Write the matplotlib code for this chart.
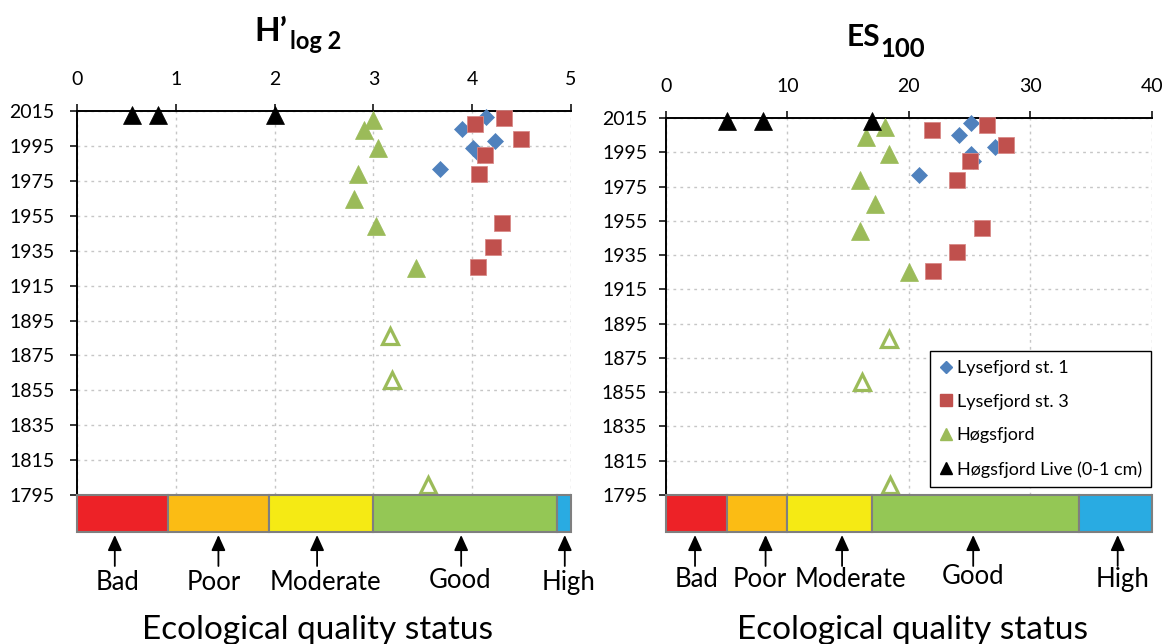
import matplotlib
matplotlib.use("Agg")
import matplotlib.pyplot as plt
from matplotlib.patches import Rectangle
from matplotlib.lines import Line2D

plt.rcParams['font.family'] = ['Lato', 'DejaVu Sans']

# ---------------- data ----------------
years_ly1 = [2012, 2005, 1998, 1994, 1990, 1982]
h_ly1 = [4.14, 3.90, 4.23, 4.01, 4.08, 3.68]
es_ly1 = [25.1, 24.1, 27.1, 25.1, 25.3, 20.8]

years_ly3 = [2011, 2008, 1999, 1990, 1979, 1951, 1937, 1926]
h_ly3 = [4.32, 4.03, 4.50, 4.13, 4.07, 4.30, 4.21, 4.06]
es_ly3 = [26.4, 21.9, 28.0, 25.0, 24.0, 26.0, 24.0, 22.0]

years_hog = [2010, 2004, 1994, 1979, 1965, 1949, 1925]
h_hog = [3.00, 2.91, 3.05, 2.84, 2.80, 3.03, 3.43]
es_hog = [18.0, 16.5, 18.4, 16.0, 17.2, 16.0, 20.0]

years_hog_open = [1886, 1861, 1801]
h_hog_open = [3.17, 3.19, 3.55]
es_hog_open = [18.35, 16.15, 18.46]

years_live = [2013, 2013, 2013]
h_live = [0.55, 0.82, 2.00]
es_live = [5.0, 8.0, 17.0]

status_names = ['Bad', 'Poor', 'Moderate', 'Good', 'High']
h_bounds = [0, 0.92, 1.94, 3.0, 4.86, 5.0]
es_bounds = [0, 5, 10, 17, 34, 40]

year_ticks = list(range(1795, 2016, 20))
h_ticks = [0, 1, 2, 3, 4, 5]
es_ticks = [0, 10, 20, 30, 40]

series_names = ['Lysefjord st. 1', 'Lysefjord st. 3', 'Høgsfjord', 'Høgsfjord Live (0-1 cm)']

# ---------------- style ----------------
W, H = 1169, 644
C_BLUE = '#4F81BD'
C_RED = '#C0504D'
C_GREEN = '#9BBB59'
C_BLACK = '#000000'
status_colors = ['#ED2227', '#FBBC14', '#F5EA14', '#94C755', '#29ABE2']

fig = plt.figure(figsize=(W / 100, H / 100), dpi=100)


def px_axes(x0, x1, ytop, ybot):
    return fig.add_axes([x0 / W, 1 - ybot / H, (x1 - x0) / W, (ybot - ytop) / H])


def setup_main(ax, xmax, xticks, ypad):
    ax.set_xlim(0, xmax)
    ax.set_ylim(1795, 2015)
    ax.xaxis.tick_top()
    ax.set_xticks(xticks)
    ax.set_yticks(year_ticks)
    for s in ['right', 'bottom']:
        ax.spines[s].set_visible(False)
    for s in ['left', 'top']:
        ax.spines[s].set_linewidth(1.4)
        ax.spines[s].set_color('black')
    ax.tick_params(axis='x', direction='out', length=5, width=1.1, pad=11.5, labelsize=14)
    ax.tick_params(axis='y', direction='out', length=5, width=1.1, pad=ypad, labelsize=14)
    ax.grid(True, linestyle=(0, (2, 3)), color='#c6c6c6', linewidth=1.0)
    ax.set_axisbelow(True)


def plot_points(ax, ly1, ly3, hog, hog_open, live):
    ax.plot(ly1, years_ly1, ls='none', marker='D', ms=8.6, color=C_BLUE,
            mec=C_BLUE, mew=0.5, clip_on=False, zorder=3)
    ax.plot(ly3, years_ly3, ls='none', marker='s', ms=12.0, color=C_RED,
            mec='#D88A88', mew=0.6, clip_on=False, zorder=4)
    ax.plot(hog, years_hog, ls='none', marker='^', ms=13.3, color=C_GREEN,
            mec=C_GREEN, mew=0.5, clip_on=False, zorder=5)
    ax.plot(hog_open, years_hog_open, ls='none', marker='^', ms=11.3, mfc='white',
            mec=C_GREEN, mew=2.3, clip_on=False, zorder=5)
    ax.plot(live, years_live, ls='none', marker='^', ms=13.3, color=C_BLACK,
            mec=C_BLACK, mew=0.5, clip_on=False, zorder=6)


def status_bar(axb, xmax, bounds, arrow_x, label_x, base_px):
    axb.set_xlim(0, xmax)
    axb.set_ylim(0, 1)
    axb.axis('off')
    for i in range(len(status_names)):
        axb.add_patch(Rectangle((bounds[i], 0), bounds[i + 1] - bounds[i], 1,
                                facecolor=status_colors[i], edgecolor='#7F7F7F',
                                linewidth=1.5, clip_on=False))
    hpx = 37.0
    tip = -(535 - 532) / hpx
    tail = -(566 - 532) / hpx
    for i, name in enumerate(status_names):
        axb.annotate('', xy=(arrow_x[i], tip), xytext=(arrow_x[i], tail),
                     xycoords=('data', 'axes fraction'),
                     textcoords=('data', 'axes fraction'),
                     arrowprops=dict(arrowstyle='-|>,head_length=0.55,head_width=0.25',
                                     color='black', lw=1.3,
                                     mutation_scale=17, shrinkA=0, shrinkB=0),
                     annotation_clip=False)
        by = base_px - (2.5 if name == 'Good' else 0)
        axb.text(label_x[i], -(by - 532) / hpx, name, transform=axb.get_xaxis_transform(),
                 ha='center', va='baseline', fontsize=18.5, clip_on=False)


# ---------------- left panel ----------------
axL = px_axes(77.3, 570.7, 111.3, 495)
setup_main(axL, 5, h_ticks, 11.5)
plot_points(axL, h_ly1, h_ly3, h_hog, h_hog_open, h_live)
axLb = px_axes(77.3, 570.7, 495, 532)
status_bar(axLb, 5, h_bounds, [0.38, 1.43, 2.43, 3.89, 4.94],
           [0.41, 1.38, 2.51, 3.88, 4.98], 590)

# ---------------- right panel ----------------
axR = px_axes(666, 1151.7, 118, 495)
setup_main(axR, 40, es_ticks, 8.5)
plot_points(axR, es_ly1, es_ly3, es_hog, es_hog_open, es_live)
axRb = px_axes(666, 1151.7, 495, 532)
status_bar(axRb, 40, es_bounds, [2.39, 8.2, 14.5, 25.3, 37.2],
           [2.55, 7.74, 15.16, 25.3, 37.6], 587)

# legend
handles = [
    Line2D([], [], ls='none', marker='D', ms=6.5, color=C_BLUE),
    Line2D([], [], ls='none', marker='s', ms=9.0, color=C_RED),
    Line2D([], [], ls='none', marker='^', ms=9.0, color=C_GREEN),
    Line2D([], [], ls='none', marker='^', ms=9.0, color=C_BLACK),
]
leg = axR.legend(handles, series_names, loc='upper right',
                 bbox_to_anchor=(1151 / W, 1 - 351 / H), bbox_transform=fig.transFigure,
                 borderaxespad=0, fontsize=13.0, frameon=True, fancybox=False,
                 framealpha=1, edgecolor='black', handlelength=0.75,
                 handletextpad=0.25, borderpad=0.5, labelspacing=0.98)
leg.get_frame().set_linewidth(1.0)
leg.set_zorder(10)

# titles
fig.text(254 / W, 1 - 40.7 / H, 'H’', fontsize=24, fontweight='bold', ha='left', va='baseline')
fig.text(290 / W, 1 - 49.3 / H, 'log 2', fontsize=17, fontweight='bold', ha='left', va='baseline')
fig.text(847 / W, 1 - 45.7 / H, 'ES', fontsize=21.5, fontweight='bold', ha='left', va='baseline')
fig.text(880 / W, 1 - 56.7 / H, '100', fontsize=18.5, fontweight='bold', ha='left', va='baseline')

# bottom labels
fig.text(318 / W, 1 - 639 / H, 'Ecological quality status', fontsize=24, ha='center', va='baseline')
fig.text(912.5 / W, 1 - 639 / H, 'Ecological quality status', fontsize=24, ha='center', va='baseline')

fig.savefig('out.png', dpi=100)
